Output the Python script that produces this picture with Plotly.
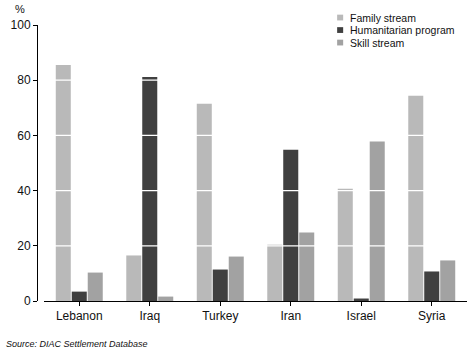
import plotly.graph_objects as go

countries = ["Lebanon", "Iraq", "Turkey", "Iran", "Israel", "Syria"]
series_names = ["Family stream", "Humanitarian program", "Skill stream"]
family = [85.5, 16.5, 71.5, 20.4, 40.7, 74.4]
humanitarian = [3.4, 81.2, 11.4, 54.8, 0.9, 10.7]
skill = [10.3, 1.6, 16.1, 24.8, 57.8, 14.7]
colors = ["#b9b9b9", "#404040", "#a2a2a2"]
y_ticks = [0, 20, 40, 60, 80, 100]
grid_vals = [20, 40, 60, 80]

FONT = "Liberation Sans, Arial, sans-serif"

fig = go.Figure()
for name, vals, col in zip(series_names, [family, humanitarian, skill], colors):
    fig.add_trace(go.Bar(x=countries, y=vals, name=name, marker=dict(color=col, line=dict(width=0)),
                         showlegend=False))

# white gridlines drawn over bars
for g in grid_vals:
    fig.add_shape(type="line", xref="x domain", yref="y", x0=0, x1=1, y0=g, y1=g,
                  line=dict(color="white", width=1.2), layer="above")

# manual compact legend
leg_x = 0.698
leg_y0 = 1.027
leg_dy = 0.0453
for i, (name, col) in enumerate(zip(series_names, colors)):
    yy = leg_y0 - i * leg_dy
    fig.add_shape(type="rect", xref="paper", yref="paper",
                  x0=leg_x, x1=leg_x + 0.014, y0=yy - 0.0105, y1=yy + 0.0105,
                  fillcolor=col, line=dict(width=0), layer="above")
    fig.add_annotation(xref="paper", yref="paper", x=leg_x + 0.025, y=yy, text=name,
                       showarrow=False, xanchor="left", yanchor="middle",
                       font=dict(family=FONT, size=10.5, color="#111"))

fig.add_annotation(xref="paper", yref="paper", x=-0.04, y=1.0, yshift=16, text="%",
                   showarrow=False, xanchor="center", yanchor="middle",
                   font=dict(family=FONT, size=11, color="#111"))
fig.add_annotation(xref="paper", yref="paper", x=-0.077, y=0, yshift=-43,
                   text="<i>Source: DIAC Settlement Database</i>",
                   showarrow=False, xanchor="left", yanchor="middle",
                   font=dict(family=FONT, size=9, color="#111"))

fig.update_layout(
    width=472, height=354,
    margin=dict(l=37, r=5, t=25, b=53),
    paper_bgcolor="white", plot_bgcolor="white",
    barmode="group", bargap=0.32, bargroupgap=0.06,
    font=dict(family=FONT, size=12, color="#111"),
    xaxis=dict(domain=[0.0163, 1], showline=True, linecolor="black", linewidth=1,
               ticks="outside", ticklen=4, tickcolor="black", showgrid=False,
               tickfont=dict(size=12)),
    yaxis=dict(anchor="free", position=0, range=[0, 100], tickvals=y_ticks,
               showline=True, linecolor="black", linewidth=1, ticks="outside",
               ticklen=4, tickcolor="black", showgrid=False, zeroline=False,
               tickfont=dict(size=12)),
)

fig.write_html("out.html")
